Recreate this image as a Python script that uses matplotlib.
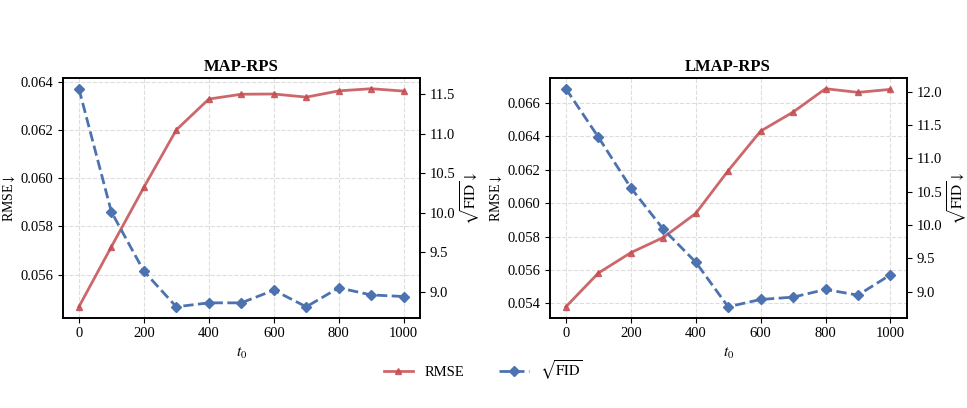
import matplotlib
matplotlib.use("Agg")
import matplotlib.pyplot as plt
from matplotlib.ticker import MultipleLocator

t0 = [0, 100, 200, 300, 400, 500, 600, 700, 800, 900, 1000]

map_rmse = [0.05466, 0.05716, 0.05963, 0.06202, 0.06330, 0.06350,
            0.06351, 0.06338, 0.06364, 0.06373, 0.06363]
map_fid = [11.567, 10.01, 9.26, 8.81, 8.86, 8.86, 9.02, 8.81, 9.05, 8.96, 8.94]

lmap_rmse = [0.0538, 0.05582, 0.05704, 0.05795, 0.05939, 0.06195,
             0.06432, 0.06546, 0.06686, 0.06664, 0.06682]
lmap_fid = [12.045, 11.32, 10.56, 9.94, 9.445, 8.775, 8.885, 8.92, 9.035, 8.95, 9.255]

titles = ["MAP-RPS", "LMAP-RPS"]

plt.rcParams["font.family"] = ["Liberation Serif", "DejaVu Serif"]
plt.rcParams["mathtext.fontset"] = "stix"

red = "#C44E52"
blue = "#4C72B0"

fig = plt.figure(figsize=(9.67, 4.08), dpi=100)
positions = [[0.0648, 0.2213, 0.3695, 0.588], [0.5684, 0.2213, 0.3692, 0.588]]

handles = None
for pos, title, rmse, fid in zip(positions, titles, [map_rmse, lmap_rmse], [map_fid, lmap_fid]):
    ax = fig.add_axes(pos)
    ax2 = ax.twinx()
    l1, = ax.plot(t0, rmse, color=red, alpha=0.85, lw=2, marker="^", ms=5,
                  label="RMSE", zorder=3)
    l2, = ax2.plot(t0, fid, color=blue, lw=2, ls="--", marker="D", ms=5,
                   label=r"$\sqrt{\mathrm{FID}}$", zorder=3)
    handles = [l1, l2]
    ax.set_title(title, fontsize=12, fontweight="bold", pad=5)
    ax.set_xlabel(r"$t_0$", fontsize=11)
    ax.set_ylabel(r"RMSE$\downarrow$", fontsize=10)
    ax.yaxis.set_label_coords(-0.128, 0.5)
    ax2.set_ylabel(r"$\sqrt{\mathrm{FID}}\downarrow$", fontsize=11)
    ax2.yaxis.set_label_coords(1.108, 0.5)
    ax.set_xticks([0, 200, 400, 600, 800, 1000])
    ax.yaxis.set_major_locator(MultipleLocator(0.002))
    ax.yaxis.set_major_formatter(lambda v, p: f"{v:.3f}")
    ax2.yaxis.set_major_locator(MultipleLocator(0.5))
    ax2.yaxis.set_major_formatter(lambda v, p: f"{v:.1f}")
    ax.grid(True, ls="--", color="#dddddd", lw=0.8)
    ax2.yaxis.grid(False)
    for a in (ax, ax2):
        a.tick_params(labelsize=10.5)
        for s in a.spines.values():
            s.set_linewidth(1.2)

fig.legend(handles, [h.get_label() for h in handles], loc="center",
           bbox_to_anchor=(0.5, 0.093), ncol=2, frameon=False, fontsize=10.5,
           columnspacing=2.4, handlelength=2.0)

fig.savefig("out.png", dpi=100)
